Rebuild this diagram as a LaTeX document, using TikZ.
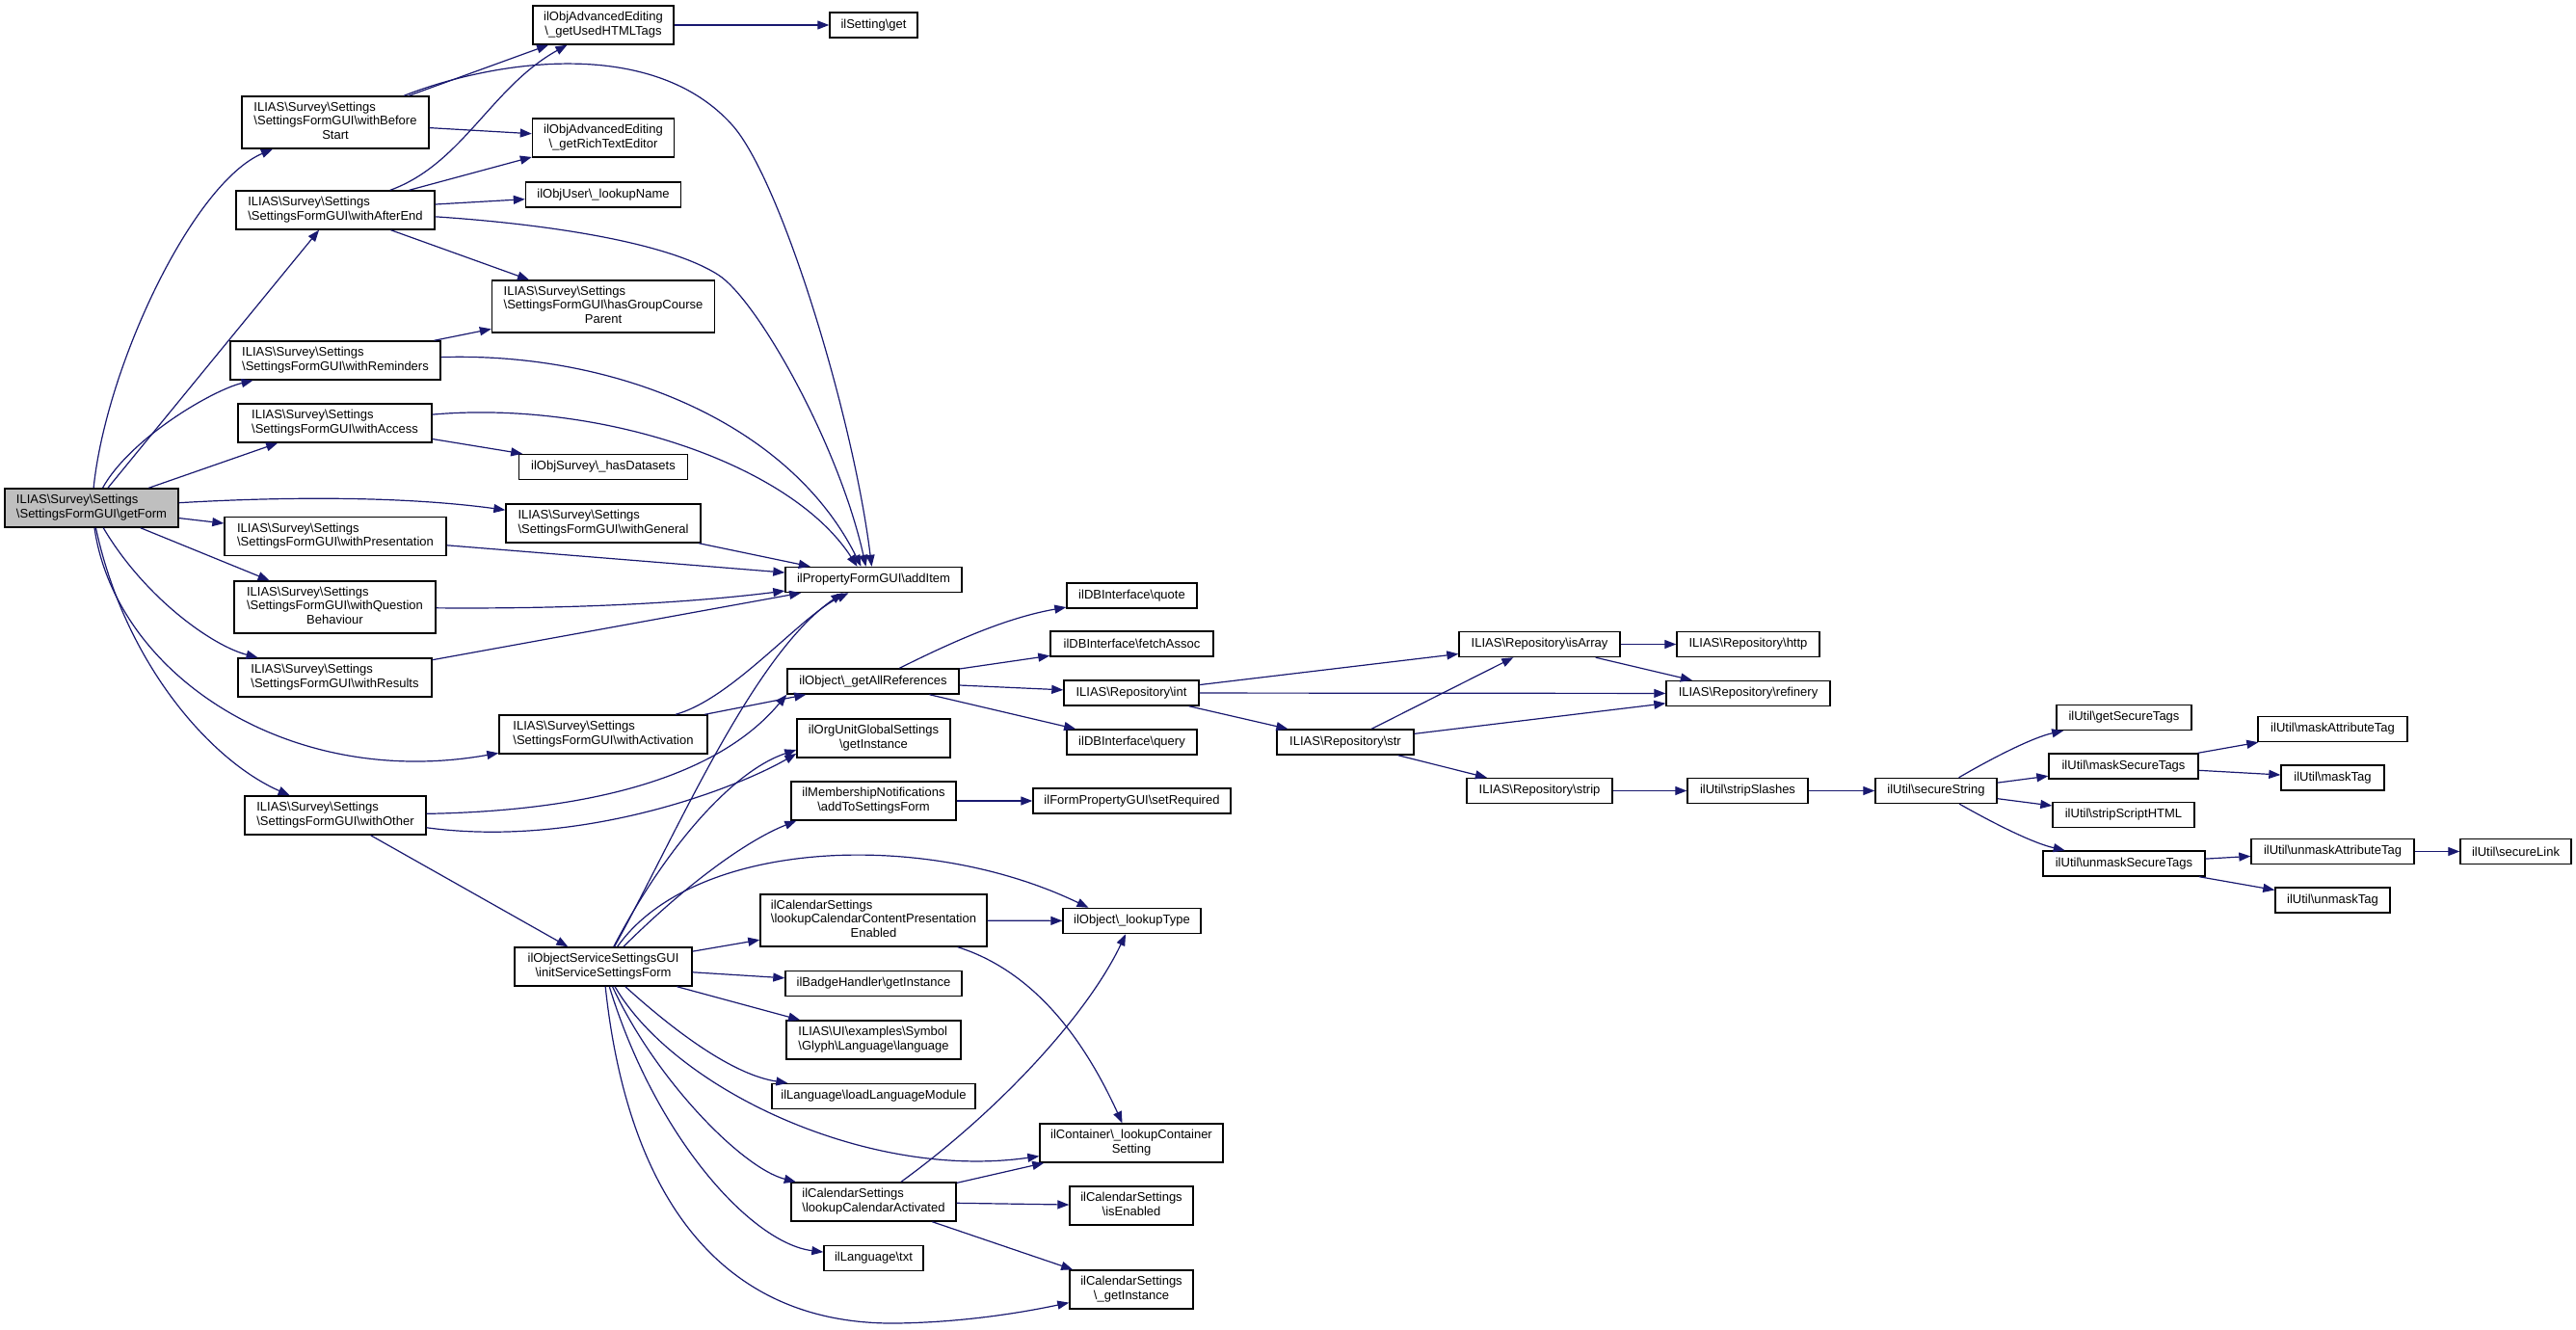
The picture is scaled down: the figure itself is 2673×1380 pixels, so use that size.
\documentclass[tikz,border=0pt]{standalone}
\usepackage{fontspec}
\setmainfont{Liberation Sans}
\usetikzlibrary{arrows.meta}
\definecolor{edgeblue}{HTML}{191970}
\definecolor{rootgray}{HTML}{BFBFBF}
\newcommand{\BS}{\textbackslash}
\newcommand{\TwoL}[2]{\begin{tabular}{@{}l@{}}#1\\\multicolumn{1}{@{}c@{}}{#2}\end{tabular}}
\newcommand{\ThreeL}[3]{\begin{tabular}{@{}l@{}}#1\\#2\\\multicolumn{1}{@{}c@{}}{#3}\end{tabular}}
\begin{document}
\begin{tikzpicture}[x=1pt,y=-1pt,
 box/.style={draw=black, line width=1.4pt, fill=white, inner sep=0pt, font=\fontsize{13}{14.7}\selectfont},
 root/.style={box, fill=rootgray},
 h1/.style={minimum height=26pt}, h2/.style={minimum height=40pt}, h3/.style={minimum height=54pt},
 edge/.style={draw=edgeblue, line width=1.2pt, -{Triangle[length=12pt,width=9pt]}}]
\fill[white] (0,0) rectangle (2673,1380);
\useasboundingbox (0,0) rectangle (2673,1380);
% column 1
\node[root,h2,minimum width=180pt] (gf) at (95,527) {\TwoL{ILIAS\BS Survey\BS Settings}{\BS SettingsFormGUI\BS getForm}};
% column 2
\node[box,h3,minimum width=194pt] (wbs) at (348,127) {\ThreeL{ILIAS\BS Survey\BS Settings}{\BS SettingsFormGUI\BS withBefore}{Start}};
\node[box,h2,minimum width=206pt] (wae) at (348,218) {\TwoL{ILIAS\BS Survey\BS Settings}{\BS SettingsFormGUI\BS withAfterEnd}};
\node[box,h2,minimum width=218pt] (wre) at (348,374) {\TwoL{ILIAS\BS Survey\BS Settings}{\BS SettingsFormGUI\BS withReminders}};
\node[box,h2,minimum width=201pt] (wac) at (347.5,439) {\TwoL{ILIAS\BS Survey\BS Settings}{\BS SettingsFormGUI\BS withAccess}};
\node[box,h2,minimum width=230pt] (wpr) at (348,556.5) {\TwoL{ILIAS\BS Survey\BS Settings}{\BS SettingsFormGUI\BS withPresentation}};
\node[box,h3,minimum width=209pt] (wqb) at (347.5,630) {\ThreeL{ILIAS\BS Survey\BS Settings}{\BS SettingsFormGUI\BS withQuestion}{Behaviour}};
\node[box,h2,minimum width=201pt] (wrs) at (347.5,703) {\TwoL{ILIAS\BS Survey\BS Settings}{\BS SettingsFormGUI\BS withResults}};
\node[box,h2,minimum width=188pt] (wot) at (348,846) {\TwoL{ILIAS\BS Survey\BS Settings}{\BS SettingsFormGUI\BS withOther}};
% column 3
\node[box,h2,minimum width=146pt] (uht) at (626,26) {\TwoL{ilObjAdvancedEditing}{\BS\_getUsedHTMLTags}};
\node[box,h2,minimum width=147pt] (rte) at (626,143) {\TwoL{ilObjAdvancedEditing}{\BS\_getRichTextEditor}};
\node[box,h1,minimum width=161pt] (lun) at (626,202) {ilObjUser\BS\_lookupName};
\node[box,h3,minimum width=231pt] (hgc) at (626,318) {\ThreeL{ILIAS\BS Survey\BS Settings}{\BS SettingsFormGUI\BS hasGroupCourse}{Parent}};
\node[box,h1,minimum width=175pt] (hds) at (626,484.5) {ilObjSurvey\BS\_hasDatasets};
\node[box,h2,minimum width=202pt] (wge) at (626,543) {\TwoL{ILIAS\BS Survey\BS Settings}{\BS SettingsFormGUI\BS withGeneral}};
\node[box,h2,minimum width=216pt] (wat) at (626,762) {\TwoL{ILIAS\BS Survey\BS Settings}{\BS SettingsFormGUI\BS withActivation}};
\node[box,h2,minimum width=184pt] (ini) at (626,1003) {\TwoL{ilObjectServiceSettingsGUI}{\BS initServiceSettingsForm}};
% column 4
\node[box,h1,minimum width=91pt] (get) at (906.5,26) {ilSetting\BS get};
\node[box,h1,minimum width=183pt] (add) at (906.5,601.5) {ilPropertyFormGUI\BS addItem};
\node[box,h1,minimum width=178pt] (gar) at (906,707) {ilObject\BS\_getAllReferences};
\node[box,h2,minimum width=159pt] (oug) at (906.5,766) {\TwoL{ilOrgUnitGlobalSettings}{\BS getInstance}};
\node[box,h2,minimum width=171pt] (mem) at (906.5,831) {\TwoL{ilMembershipNotifications}{\BS addToSettingsForm}};
\node[box,h3,minimum width=235pt] (ccp) at (906.5,955) {\ThreeL{ilCalendarSettings}{\BS lookupCalendarContentPresentation}{Enabled}};
\node[box,h1,minimum width=183pt] (bad) at (906.5,1020.5) {ilBadgeHandler\BS getInstance};
\node[box,h2,minimum width=181pt] (sym) at (906.5,1079) {\TwoL{ILIAS\BS UI\BS examples\BS Symbol}{\BS Glyph\BS Language\BS language}};
\node[box,h1,minimum width=211pt] (llm) at (906.5,1137.5) {ilLanguage\BS loadLanguageModule};
\node[box,h2,minimum width=171pt] (lca) at (906.5,1247) {\TwoL{ilCalendarSettings}{\BS lookupCalendarActivated}};
\node[box,h1,minimum width=103pt] (txt) at (906.5,1305.5) {ilLanguage\BS txt};
% column 5
\node[box,h1,minimum width=135pt] (quo) at (1174.5,618) {ilDBInterface\BS quote};
\node[box,h1,minimum width=169pt] (fas) at (1174.5,668) {ilDBInterface\BS fetchAssoc};
\node[box,h1,minimum width=140pt] (int) at (1174,719) {ILIAS\BS Repository\BS int};
\node[box,h1,minimum width=135pt] (qry) at (1174.5,770) {ilDBInterface\BS query};
\node[box,h1,minimum width=205pt] (srq) at (1174.5,831) {ilFormPropertyGUI\BS setRequired};
\node[box,h1,minimum width=143pt] (lty) at (1174.5,955.5) {ilObject\BS\_lookupType};
\node[box,h2,minimum width=190pt] (cos) at (1174,1186) {\TwoL{ilContainer\BS\_lookupContainer}{Setting}};
\node[box,h2,minimum width=128pt] (ise) at (1174,1251) {\TwoL{ilCalendarSettings}{\BS isEnabled}};
\node[box,h2,minimum width=128pt] (cgi) at (1174,1338) {\TwoL{ilCalendarSettings}{\BS\_getInstance}};
% right part
\node[box,h1,minimum width=142pt] (str) at (1396,770) {ILIAS\BS Repository\BS str};
\node[box,h1,minimum width=167pt] (iar) at (1597.5,668.5) {ILIAS\BS Repository\BS isArray};
\node[box,h1,minimum width=151pt] (stp) at (1597.5,820.5) {ILIAS\BS Repository\BS strip};
\node[box,h1,minimum width=148pt] (htp) at (1814,668.5) {ILIAS\BS Repository\BS http};
\node[box,h1,minimum width=170pt] (rfn) at (1814,719.5) {ILIAS\BS Repository\BS refinery};
\node[box,h1,minimum width=125pt] (sls) at (1813.5,820.5) {ilUtil\BS stripSlashes};
\node[box,h1,minimum width=126pt] (sst) at (2009,820.5) {ilUtil\BS secureString};
\node[box,h1,minimum width=140pt] (gst) at (2204,744.5) {ilUtil\BS getSecureTags};
\node[box,h1,minimum width=155pt] (mst) at (2203.5,795) {ilUtil\BS maskSecureTags};
\node[box,h1,minimum width=147pt] (ssh) at (2203.5,845.5) {ilUtil\BS stripScriptHTML};
\node[box,h1,minimum width=168pt] (ust) at (2204,896) {ilUtil\BS unmaskSecureTags};
\node[box,h1,minimum width=155pt] (mat) at (2420.5,756.5) {ilUtil\BS maskAttributeTag};
\node[box,h1,minimum width=107pt] (mtg) at (2420.5,807) {ilUtil\BS maskTag};
\node[box,h1,minimum width=169pt] (uat) at (2420.5,883.5) {ilUtil\BS unmaskAttributeTag};
\node[box,h1,minimum width=119pt] (utg) at (2420.5,934) {ilUtil\BS unmaskTag};
\node[box,h1,minimum width=115pt] (slk) at (2610.5,883.5) {ilUtil\BS secureLink};
% edges from getForm
\draw[edge] (gf) .. controls (110,380) and (200,190) .. (wbs);
\draw[edge] (gf) -- (wae);
\draw[edge] (gf) .. controls (135,455) and (220,405) .. (wre);
\draw[edge] (gf) -- (wac);
\draw[edge] (gf) .. controls (300,515) and (420,515) .. (wge);
\draw[edge] (gf) -- (wpr);
\draw[edge] (gf) -- (wqb);
\draw[edge] (gf) .. controls (150,620) and (220,670) .. (wrs);
\draw[edge] (gf) .. controls (120,700) and (300,820) .. (wat);
\draw[edge] (gf) .. controls (130,690) and (220,790) .. (wot);
% withBeforeStart
\draw[edge] (wbs) -- (uht);
\draw[edge] (wbs) -- (rte);
\draw[edge] (wbs) .. controls (520,60) and (680,40) .. (760,130) .. controls (810,186) and (885,430) .. ([xshift=-2pt]add.north);
% withAfterEnd
\draw[edge] (wae) .. controls (480,170) and (510,90) .. (uht);
\draw[edge] (wae) -- (rte);
\draw[edge] (wae) -- (lun);
\draw[edge] (wae) -- (hgc);
\draw[edge] (wae) .. controls (560,232) and (690,250) .. (745,285) .. controls (785,310) and (870,460) .. ([xshift=-8pt]add.north);
% withReminders, withAccess
\draw[edge] (wre) -- (hgc);
\draw[edge] (wre) .. controls (640,365) and (820,440) .. ([xshift=-13pt]add.north);
\draw[edge] (wac) .. controls (620,415) and (820,480) .. ([xshift=-17pt]add.north);
\draw[edge] (wac) -- (hds);
% others to addItem
\draw[edge] (wge) -- (add);
\draw[edge] (wpr) -- (add);
\draw[edge] (wqb) .. controls (600,632) and (720,625) .. (add);
\draw[edge] (wrs) -- (add);
% withActivation, withOther
\draw[edge] (wat) -- (gar);
\draw[edge] (wat) .. controls (760,725) and (830,640) .. ([xshift=-26pt]add.south);
\draw[edge] (wot) .. controls (690,840) and (775,770) .. (gar.south west);
\draw[edge] (wot) .. controls (600,880) and (760,820) .. ([yshift=-16pt]oug.west);
\draw[edge] (wot) -- (ini);
% initServiceSettingsForm
\draw[edge] (ini) .. controls (700,870) and (780,680) .. ([xshift=-32pt]add.south);
\draw[edge] (ini) .. controls (690,880) and (760,800) .. ([yshift=-12pt]oug.west);
\draw[edge] (ini) .. controls (720,910) and (780,870) .. ([xshift=6pt]mem.south west);
\draw[edge] (ini) .. controls (720,870) and (960,860) .. ([xshift=-45pt]lty.north);
\draw[edge] (ini) -- (ccp);
\draw[edge] (ini) -- (bad);
\draw[edge] (ini) -- (sym);
\draw[edge] (ini) .. controls (700,1070) and (760,1115) .. (llm);
\draw[edge] (ini) .. controls (700,1130) and (900,1225) .. (cos);
\draw[edge] (ini) .. controls (680,1120) and (770,1212) .. (lca);
\draw[edge] (ini) .. controls (680,1180) and (780,1290) .. (txt);
\draw[edge] (ini) .. controls (650,1230) and (740,1375) .. (930,1373) .. controls (1000,1372) and (1060,1362) .. (cgi);
% calendar settings
\draw[edge] (ccp) -- (lty);
\draw[edge] (ccp) .. controls (1080,1010) and (1130,1090) .. (cos);
\draw[edge] (lca) .. controls (1040,1150) and (1130,1050) .. (lty);
\draw[edge] (lca) -- (cos);
\draw[edge] (lca) -- (ise);
\draw[edge] (lca) -- (cgi);
\draw[edge] (mem) -- (srq);
% getAllReferences
\draw[edge] (gar) .. controls (1000,660) and (1050,640) .. (quo);
\draw[edge] (gar) -- (fas);
\draw[edge] (gar) -- (int);
\draw[edge] (gar) -- (qry);
% repository
\draw[edge] (int) -- (iar);
\draw[edge] (int) -- (rfn);
\draw[edge] (int) -- (str);
\draw[edge] (str) -- (iar);
\draw[edge] (str) -- (rfn);
\draw[edge] (str) -- (stp);
\draw[edge] (iar) -- (htp);
\draw[edge] (iar) -- (rfn);
\draw[edge] (stp) -- (sls);
\draw[edge] (sls) -- (sst);
% ilUtil
\draw[edge] (sst) .. controls (2070,785) and (2110,765) .. (gst);
\draw[edge] (sst) -- (mst);
\draw[edge] (sst) -- (ssh);
\draw[edge] (sst) .. controls (2070,855) and (2110,875) .. (ust);
\draw[edge] (mst) -- (mat);
\draw[edge] (mst) -- (mtg);
\draw[edge] (ust) -- (uat);
\draw[edge] (ust) -- (utg);
\draw[edge] (uat) -- (slk);
\draw[edge] (uht) -- (get);
\end{tikzpicture}
\end{document}
